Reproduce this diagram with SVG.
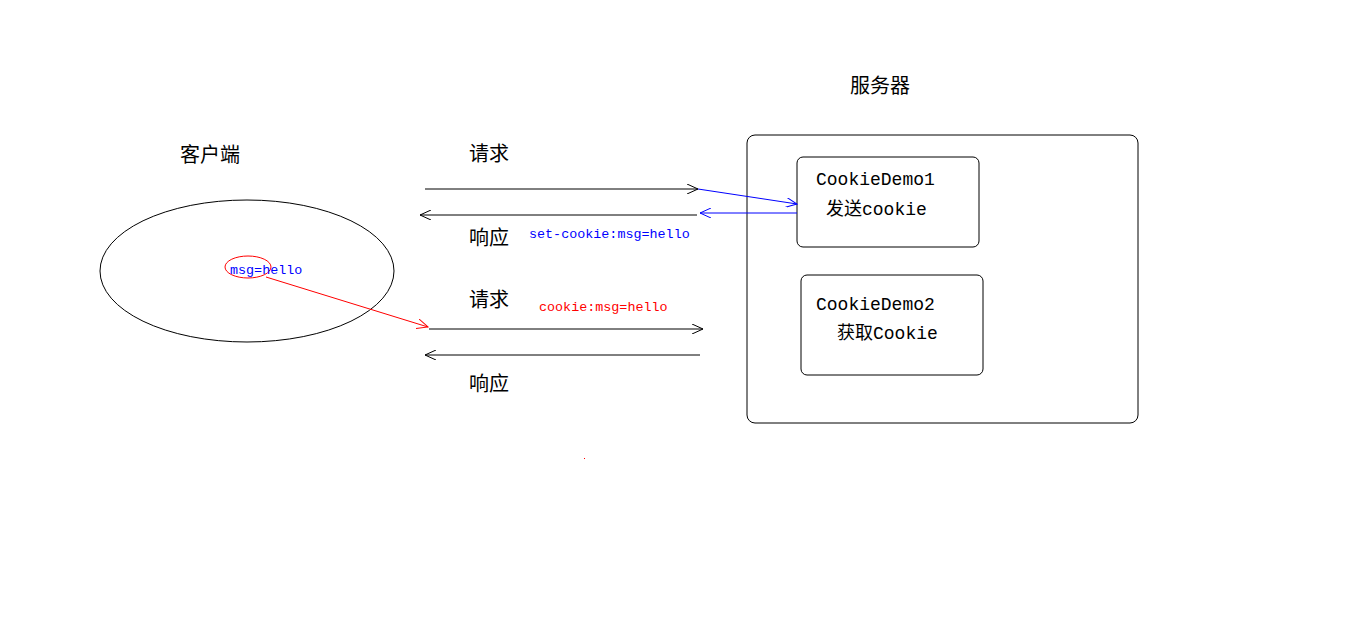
<svg xmlns="http://www.w3.org/2000/svg" width="1360" height="620" viewBox="0 0 1360 620">
<defs>
<style>
.cjk{font-family:"Liberation Sans","Noto Sans CJK SC",sans-serif;font-size:20px;fill:#000}
.mono{font-family:"Liberation Mono","Noto Sans CJK SC",monospace;font-size:18px;fill:#000}
.small{font-family:"Liberation Mono",monospace;font-size:13.4px}
.ln{fill:none;stroke:#000;stroke-width:1}
.box{fill:none;stroke:#000;stroke-width:1}
</style>
<marker id="ab" markerWidth="12" markerHeight="10" refX="11" refY="5" orient="auto" markerUnits="userSpaceOnUse"><path d="M0,0 L11,5 L0,10" fill="none" stroke="#000"/></marker>
<marker id="au" markerWidth="12" markerHeight="10" refX="11" refY="5" orient="auto" markerUnits="userSpaceOnUse"><path d="M0,0 L11,5 L0,10" fill="none" stroke="#0000ff"/></marker>
<marker id="ar" markerWidth="12" markerHeight="10" refX="11" refY="5" orient="auto" markerUnits="userSpaceOnUse"><path d="M0,0 L11,5 L0,10" fill="none" stroke="#ff0000"/></marker>
</defs>
<rect width="1360" height="620" fill="#fff"/>
<g id="client">
<ellipse cx="247" cy="271" rx="147" ry="71" class="box"/>
<text x="180" y="162" class="cjk">客户端</text>
<ellipse cx="248" cy="267" rx="23" ry="11" fill="none" stroke="#ff0000"/>
<text x="230" y="274" class="small" fill="#0000ff">msg=hello</text>
</g>
<g id="server">
<rect x="747" y="135" width="391" height="288" rx="8" class="box"/>
<text x="850" y="93" class="cjk">服务器</text>
</g>
<g id="demo1">
<rect x="797" y="157" width="182" height="90" rx="6" class="box"/>
<text x="816" y="185" class="mono">CookieDemo1</text>
<text x="826" y="215" class="mono">发送cookie</text>
</g>
<g id="demo2">
<rect x="801" y="275" width="182" height="100" rx="6" class="box"/>
<text x="816" y="310" class="mono">CookieDemo2</text>
<text x="837" y="339" class="mono">获取Cookie</text>
</g>
<g id="connectors">
<line x1="425" y1="189" x2="698" y2="189" class="ln" marker-end="url(#ab)"/>
<line x1="697" y1="215" x2="420" y2="215" class="ln" marker-end="url(#ab)"/>
<line x1="698" y1="189" x2="797" y2="204" fill="none" stroke="#0000ff" marker-end="url(#au)"/>
<line x1="797" y1="213" x2="700" y2="213" fill="none" stroke="#0000ff" marker-end="url(#au)"/>
<line x1="429" y1="329" x2="703" y2="329" class="ln" marker-end="url(#ab)"/>
<line x1="700" y1="355" x2="425" y2="355" class="ln" marker-end="url(#ab)"/>
<line x1="266" y1="277" x2="428" y2="327" fill="none" stroke="#ff0000" marker-end="url(#ar)"/>
</g>
<g id="labels">
<text x="469" y="161" class="cjk">请求</text>
<text x="469" y="245" class="cjk">响应</text>
<text x="469" y="307" class="cjk">请求</text>
<text x="469" y="391" class="cjk">响应</text>
<text x="529" y="238" class="small" fill="#0000ff">set-cookie:msg=hello</text>
<text x="539" y="311" class="small" fill="#ff0000">cookie:msg=hello</text>
</g>
<rect x="584" y="458" width="1" height="1" fill="#ff0000"/>
</svg>
